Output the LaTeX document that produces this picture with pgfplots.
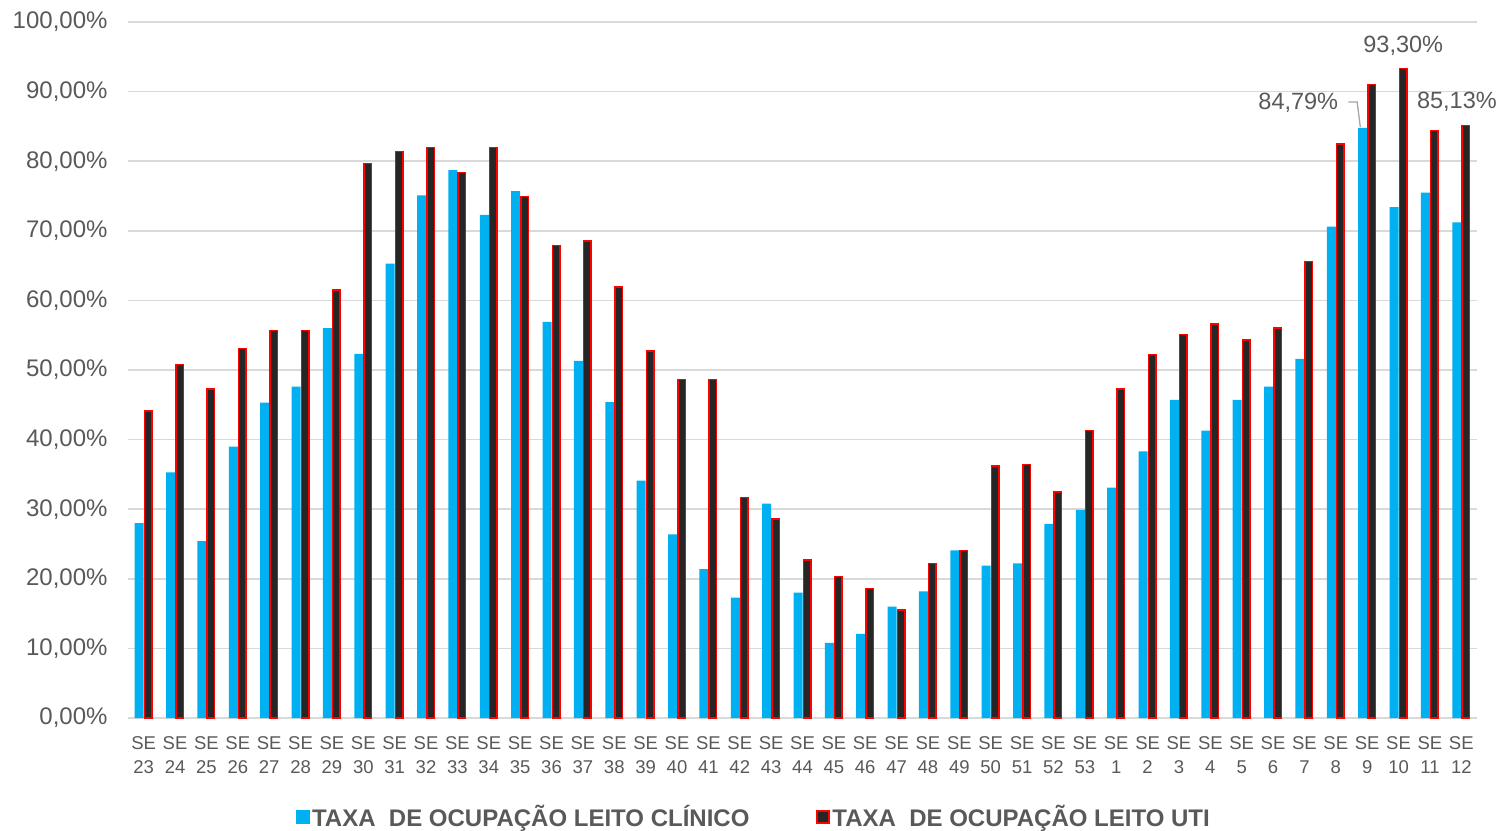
\documentclass[border=0pt]{standalone}
\usepackage{fontspec}
\setmainfont{Liberation Sans}
\usepackage{pgfplots}
\pgfplotsset{compat=1.18}
\definecolor{cblue}{HTML}{00B0F0}
\definecolor{cred}{HTML}{FF0000}
\definecolor{cdark}{HTML}{262626}
\definecolor{cgrid}{HTML}{D9D9D9}
\definecolor{ctext}{HTML}{595959}
\definecolor{cleader}{HTML}{A6A6A6}
\begin{document}
\begin{tikzpicture}
\begin{axis}[
  at={(0,0)}, anchor=south west,
  scale only axis, width=1349bp, height=696bp,
  xmin=-0.5, xmax=42.5, ymin=0, ymax=100,
  clip=false,
  axis line style={draw=none},
  ymajorgrids, grid style={draw=cgrid, line width=1.5bp},
  major tick length=0,
  ytick={0,10,...,100},
  yticklabel={\pgfmathprintnumber[fixed,fixed zerofill,precision=2,use comma,assume math mode=true]{\tick}\%},
  yticklabel style={font=\fontsize{24bp}{27bp}\selectfont, text=ctext, xshift=-17bp},
  xtick={0,...,42},
  xticklabels={SE\\23,SE\\24,SE\\25,SE\\26,SE\\27,SE\\28,SE\\29,SE\\30,SE\\31,SE\\32,SE\\33,SE\\34,SE\\35,SE\\36,SE\\37,SE\\38,SE\\39,SE\\40,SE\\41,SE\\42,SE\\43,SE\\44,SE\\45,SE\\46,SE\\47,SE\\48,SE\\49,SE\\50,SE\\51,SE\\52,SE\\53,SE\\1,SE\\2,SE\\3,SE\\4,SE\\5,SE\\6,SE\\7,SE\\8,SE\\9,SE\\10,SE\\11,SE\\12},
  xticklabel style={align=center, font=\fontsize{18.5bp}{24bp}\selectfont, text=ctext, yshift=-15bp},
  legend style={draw=none, fill=none, at={(0.4640,-0.1422)}, anchor=center,
    legend columns=2, font=\fontsize{24bp}{26bp}\selectfont\bfseries, text=ctext,
    nodes={inner sep=2bp},
    /tikz/every even column/.append style={column sep=65bp}},
  legend cell align=left,
]
\addplot[ybar, bar width=9bp, bar shift=-4.5bp, fill=cblue, draw=none,
  legend image code/.code={\fill[cblue] (0bp,-7bp) rectangle (14bp,7bp);}]
coordinates {
(0,28.0) (1,35.3) (2,25.4) (3,39.0) (4,45.3) (5,47.6) (6,56.0) (7,52.3) (8,65.3) (9,75.1)
(10,78.7) (11,72.3) (12,75.7) (13,56.9) (14,51.3) (15,45.4) (16,34.1) (17,26.4) (18,21.4) (19,17.3)
(20,30.8) (21,18.0) (22,10.8) (23,12.1) (24,16.0) (25,18.2) (26,24.1) (27,21.9) (28,22.2) (29,27.9)
(30,29.9) (31,33.1) (32,38.3) (33,45.7) (34,41.3) (35,45.7) (36,47.6) (37,51.6) (38,70.6) (39,84.79)
(40,73.4) (41,75.5) (42,71.2)
};
\addlegendentry{TAXA\ \ DE OCUPAÇÃO LEITO CLÍNICO}
\addplot[ybar, bar width=7.5bp, bar shift=4.5bp, fill=cdark, draw=cred, line width=1.5bp,
  legend image code/.code={\draw[fill=cdark, draw=cred, line width=2bp] (1bp,-6bp) rectangle (13bp,6bp);}]
coordinates {
(0,44.1) (1,50.8) (2,47.3) (3,53.1) (4,55.7) (5,55.7) (6,61.5) (7,79.7) (8,81.4) (9,82.0)
(10,78.4) (11,82.0) (12,74.9) (13,67.9) (14,68.5) (15,61.9) (16,52.7) (17,48.6) (18,48.6) (19,31.7)
(20,28.6) (21,22.7) (22,20.3) (23,18.6) (24,15.5) (25,22.2) (26,24.1) (27,36.2) (28,36.4) (29,32.5)
(30,41.3) (31,47.3) (32,52.2) (33,55.1) (34,56.6) (35,54.3) (36,56.0) (37,65.6) (38,82.5) (39,91.0)
(40,93.30) (41,84.4) (42,85.13)
};
\addlegendentry{TAXA\ \ DE OCUPAÇÃO LEITO UTI}
\draw[cleader, line width=1.3bp] (axis cs:38.40,88.5) -- (axis cs:38.68,88.5) -- (axis cs:38.78,84.9);
\node[anchor=east, text=ctext, font=\fontsize{23.5bp}{27bp}\selectfont, inner sep=0pt] at (axis cs:38.08,88.4) {84,79\%};
\node[anchor=center, text=ctext, font=\fontsize{23.5bp}{27bp}\selectfont, inner sep=0pt] at (axis cs:40.15,96.6) {93,30\%};
\node[anchor=center, text=ctext, font=\fontsize{23.5bp}{27bp}\selectfont, inner sep=0pt] at (axis cs:41.86,88.6) {85,13\%};
\end{axis}
\pgfresetboundingbox
\path[use as bounding box] (-128bp,-113bp) rectangle (1372bp,718bp);
\end{tikzpicture}
\end{document}
